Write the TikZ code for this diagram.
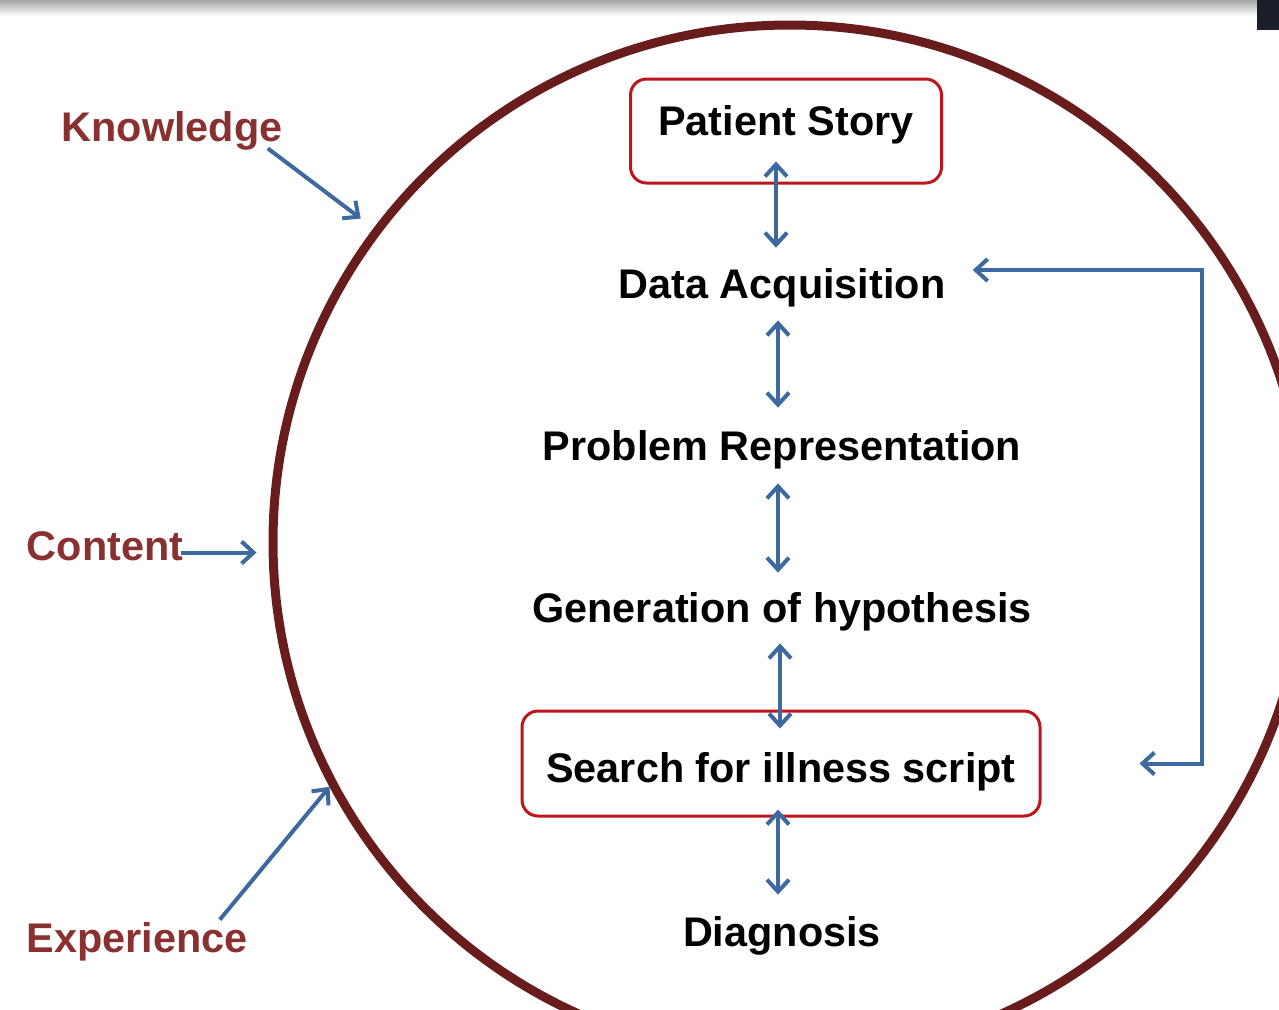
\documentclass[tikz,border=0pt]{standalone}
\usepackage{fontspec}
\setmainfont{Liberation Sans}
\usetikzlibrary{arrows.meta}

\definecolor{rimred}{RGB}{104,28,28}
\definecolor{boxred}{RGB}{190,20,28}
\definecolor{labred}{RGB}{138,48,48}
\definecolor{arrblue}{RGB}{62,105,160}
\definecolor{corner}{RGB}{26,31,42}

\tikzset{
  txt/.style={inner sep=0pt, anchor=base, font=\fontsize{20.7}{24}\selectfont\bfseries,
    text height=15pt, text depth=4.5pt},
  side/.style={txt, text=labred},
  stepbox/.style={txt, draw=boxred, line width=1.5pt, rounded corners=8pt},
  ring/.style={circle, draw=rimred, line width=4.5pt, inner sep=0pt, minimum size=517pt},
  barb/.style={Straight Barb[length=6pt,width=11pt,line width=2pt]},
  arr/.style={draw=arrblue, line width=2pt, -{Straight Barb[length=6pt,width=11pt,line width=2pt]}},
  dbl/.style={arr, {Straight Barb[length=6pt,width=11pt,line width=2pt]}-{Straight Barb[length=6pt,width=11pt,line width=2pt]}}
}

\begin{document}
\begin{tikzpicture}[x=0.5pt,y=-0.5pt]
\useasboundingbox (0,0) rectangle (1279,1009);
\clip (0,0) rectangle (1279,1009);
\shade[top color=black!35, bottom color=white] (0,0) rectangle (1279,16);
\fill[corner] (1257,0) rectangle (1279,30);

\node[ring] (rim) at (790,542) {};

\node[stepbox, minimum width=155.5pt, text height=28pt, text depth=24pt] (ps) at (786,135) {Patient Story};
\node[txt] (da) at (782,298) {Data Acquisition};
\node[txt] (pr) at (782,460) {Problem Representation};
\node[txt] (gh) at (782,622) {Generation of hypothesis};
\node[stepbox, minimum width=259pt, text height=35.5pt, text depth=17pt] (si) at (781,782) {Search for illness script};
\node[txt] (dg) at (782,946) {Diagnosis};

\node[side] (kn) at (172,141) {Knowledge};
\node[side] (ct) at (105,560) {Content};
\node[side] (ex) at (137,952) {Experience};

\draw[dbl] ([xshift=-5pt,yshift=11.5pt]ps.south) -- ([xshift=-3pt,yshift=10pt]da.north);
\draw[dbl] ([xshift=-2pt,yshift=-6.5pt]da.south) -- ([xshift=-2pt,yshift=11pt]pr.north);
\draw[dbl] ([xshift=-2pt,yshift=-7pt]pr.south) -- ([xshift=-2pt,yshift=9.5pt]gh.north);
\draw[dbl] ([xshift=-1pt,yshift=-6pt]gh.south) -- ([xshift=-0.5pt,yshift=-9.5pt]si.north);
\draw[dbl] ([xshift=-1.5pt,yshift=4pt]si.south) -- ([xshift=-2pt,yshift=10.5pt]dg.north);

\draw[dbl] ([xshift=13.5pt,yshift=8.75pt]da.east) -| ([xshift=80pt]si.east) -- ([xshift=49pt]si.east);

\draw[arr, shorten >=8pt] ([xshift=-7.5pt,yshift=1pt]kn.south east) -- (rim.143);
\draw[arr, shorten >=6pt] ([xshift=-1.5pt,yshift=-1.5pt]ct.east) -- ([yshift=-1.5pt]ct.east -| rim.west);
\draw[arr] ([xshift=-14pt,yshift=1pt]ex.north east) -- (rim.208);
\end{tikzpicture}
\end{document}
